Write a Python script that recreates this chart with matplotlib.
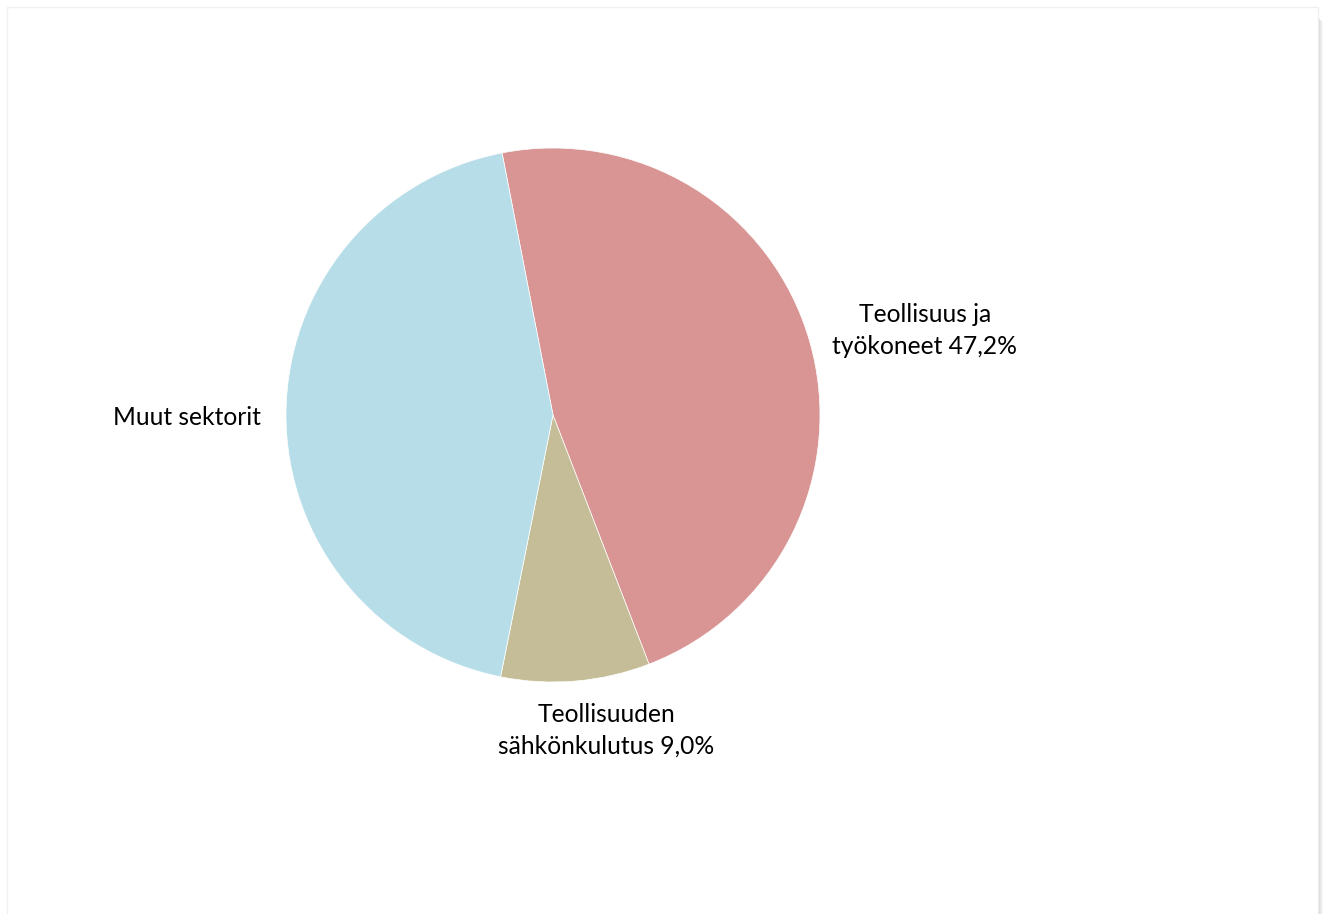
import matplotlib.pyplot as plt
from matplotlib.patches import Rectangle

# data
categories = ['Teollisuus ja\ntyökoneet', 'Teollisuuden\nsähkönkulutus', 'Muut sektorit']
shares = [47.2, 9.0, 43.8]
show_pct = [True, True, False]
colors = ['#D99594', '#C4BD97', '#B7DEE8']

W, H = 1326, 914
fig = plt.figure(figsize=(W / 100, H / 100), dpi=100)
plt.rcParams['font.family'] = ['Lato', 'DejaVu Sans']

# chart frame with soft shadow on the right
for i, g in enumerate(['#cfcfcf', '#dadada', '#e6e6e6', '#f0f0f0', '#f7f7f7']):
    fig.patches.append(Rectangle(((1318 + i) / W, 0), 1.2 / W, 1 - (18 + i) / H,
                                 transform=fig.transFigure, facecolor=g,
                                 edgecolor='none', zorder=0))
fig.patches.append(Rectangle((7 / W, -0.01), 1311 / W, 1 - 7 / H + 0.01, transform=fig.transFigure,
                             facecolor='white', edgecolor='#f0f0f0', linewidth=1, zorder=1))

cx, cy, r = 553, 415, 267
ax = fig.add_axes([(cx - r) / W, (H - cy - r) / H, 2 * r / W, 2 * r / H])
ax.set_zorder(2)
ax.pie(shares, colors=colors, startangle=101, counterclock=False,
       wedgeprops=dict(edgecolor='white', linewidth=0.5))
ax.set_xlim(-1, 1)
ax.set_ylim(-1, 1)
ax.set_aspect('equal')
ax.axis('off')

label_pos = [(1.393, 0.316), (0.199, -1.182), (-1.371, -0.01)]
for cat, val, pct, (lx, ly) in zip(categories, shares, show_pct, label_pos):
    txt = cat
    if pct:
        txt = cat + ' ' + f'{val:.1f}'.replace('.', ',') + '%'
    ax.text(lx, ly, txt, ha='center', va='center', fontsize=17.7, color='black',
            linespacing=1.45, clip_on=False)

fig.savefig('out.png', dpi=100, facecolor='white')
